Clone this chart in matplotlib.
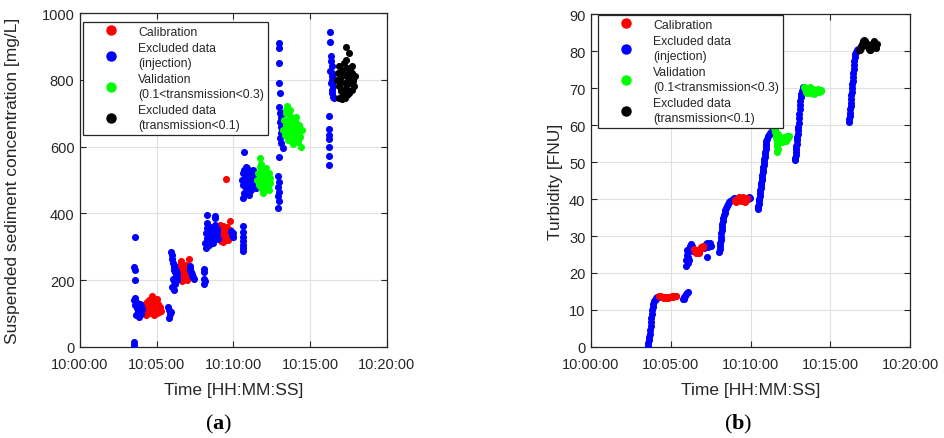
import matplotlib
matplotlib.use("Agg")
import matplotlib.pyplot as plt
from matplotlib.lines import Line2D

plt.rcParams['font.family'] = ['Liberation Sans', 'DejaVu Sans']
plt.rcParams['mathtext.fontset'] = 'custom'
plt.rcParams['mathtext.rm'] = 'Liberation Serif'
plt.rcParams['mathtext.bf'] = 'Liberation Serif:bold'

# ---------------- x axis (minutes after 10:00:00) ----------------
x_ticks = [0, 5, 10, 15, 20]
x_tick_labels = ["10:00:00", "10:05:00", "10:10:00", "10:15:00", "10:20:00"]

# ---------------- (a) Suspended sediment concentration ----------------
ssc_cal_t = [4.15, 4.2, 4.25, 4.3, 4.35, 4.4, 4.45, 4.5, 4.55, 4.6, 4.65, 4.7, 4.75, 4.8, 4.85, 4.9, 4.95, 5.0,
             5.05, 5.1, 5.15, 5.2, 5.25, 4.3, 4.5, 4.7, 4.9, 5.1, 4.4, 4.6, 4.8, 5.0, 4.75,
             6.35, 6.4, 6.5, 6.55, 6.6, 6.7, 6.75, 6.8, 6.9, 6.95, 7.0, 7.1, 6.45, 6.65, 6.85, 7.05, 6.6, 6.8, 7.15,
             9.05, 9.1, 9.2, 9.25, 9.3, 9.4, 9.45, 9.5, 9.6, 9.65, 9.7, 9.8, 9.85, 9.9, 9.15, 9.35, 9.55, 9.75,
             9.95, 9.5]
ssc_cal_v = [112, 125, 104, 118, 132, 98, 121, 110, 127, 103, 115, 138, 108, 120, 96, 130, 113, 101,
             124, 117, 106, 119, 109, 95, 140, 153, 142, 128, 135, 122, 100, 145, 116,
             225, 240, 210, 232, 250, 205, 238, 218, 246, 200, 228, 263, 215, 198, 235, 222, 258, 244, 212,
             330, 352, 318, 340, 362, 325, 348, 335, 358, 320, 345, 377, 330, 342, 365, 315, 338, 350,
             328, 503]

ssc_inj_t = [3.5, 3.55, 3.58, 3.55, 3.6, 3.6, 3.6, 3.55, 3.65, 3.6, 3.7, 3.75, 3.8, 3.85, 3.9, 3.95, 4.0, 3.65,
             3.7, 3.8, 3.9, 4.0, 4.05, 3.75, 3.85, 3.95,
             5.75, 5.8, 5.85, 5.8, 5.9,
             5.95, 6.0, 6.0, 6.05, 6.1, 6.15, 6.2, 6.25, 6.3, 6.05, 6.1, 6.2, 6.25, 6.15, 6.0, 6.3, 6.35, 6.1,
             7.15, 7.2, 7.25, 7.3, 7.35, 7.4, 7.2, 7.3,
             8.05, 8.1, 8.1, 8.15, 8.05,
             8.2, 8.25, 8.3, 8.35, 8.4, 8.45, 8.5, 8.55, 8.6, 8.65, 8.7, 8.75, 8.8, 8.85, 8.9, 8.95, 9.0, 8.2,
             8.3, 8.4, 8.5, 8.6, 8.7, 8.8, 8.9, 8.25, 8.8, 8.15, 8.35, 8.55, 8.75,
             9.85, 9.9, 9.95, 10.0,
             10.6, 10.6, 10.65, 10.6, 10.65, 10.6, 10.65,
             10.55, 10.6, 10.65, 10.7, 10.75, 10.8, 10.85, 10.9, 10.95, 11.0, 11.05, 11.1, 11.15, 11.2, 11.25,
             11.3, 11.35, 11.4, 11.45, 10.7, 10.8, 10.9, 11.0, 11.1, 11.2, 11.3, 10.65, 10.7, 11.4,
             12.9, 12.95, 12.9, 12.95, 12.9, 12.95, 12.9,
             12.95, 13.0, 12.95, 13.0, 13.05, 13.0, 13.05, 13.1, 13.05, 13.1, 13.15, 13.1, 13.2, 13.15, 13.05,
             13.1, 13.2, 13.0, 13.1,
             16.2, 16.2, 16.25, 16.2, 16.25, 16.2, 16.2,
             16.3, 16.3, 16.35, 16.35, 16.4, 16.3, 16.45, 16.4, 16.35, 16.5, 16.45, 16.4, 16.5, 16.55, 16.45, 16.5]
ssc_inj_v = [5, 15, 330, 240, 232, 200, 148, 140, 135, 125, 118, 112, 105, 100, 130, 122, 110, 95,
             132, 128, 102, 98, 115, 108, 90, 120,
             120, 110, 98, 88, 105,
             283, 275, 262, 250, 240, 232, 225, 218, 210, 205, 198, 190, 230, 245, 180, 200, 222, 170,
             243, 232, 225, 218, 210, 204, 236, 214,
             234, 226, 205, 198, 190,
             340, 325, 355, 315, 345, 330, 360, 320, 338, 350, 312, 342, 365, 328, 335, 348, 322, 296,
             372, 305, 332, 344, 318, 392, 352, 395, 385, 310, 362, 326, 336,
             348, 335, 328, 342,
             362, 345, 330, 318, 305, 295, 288,
             500, 520, 485, 530, 505, 475, 540, 495, 515, 480, 525, 500, 470, 510, 490,
             520, 505, 485, 475, 584, 465, 535, 455, 510, 480, 530, 446, 460, 500,
             512, 495, 480, 465, 452, 438, 416,
             910, 895, 850, 790, 760, 720, 700, 690, 675, 660, 650, 640, 670, 700, 625,
             610, 595, 570, 680,
             692, 653, 635, 623, 599, 572, 545,
             943, 913, 871, 855, 840, 825, 810, 800, 790, 780, 770, 760, 750, 745, 820, 795]

ssc_val_t = [11.55, 11.6, 11.65, 11.7, 11.75, 11.8, 11.85, 11.9, 11.95, 12.0, 12.05, 12.1, 12.15, 12.2, 12.25,
             12.3, 12.35, 12.4, 11.7, 11.9, 12.1, 12.3, 11.8, 12.0, 12.2, 11.65,
             13.25, 13.3, 13.35, 13.4, 13.45, 13.5, 13.55, 13.6, 13.65, 13.7, 13.75, 13.8, 13.85, 13.9, 13.95,
             14.0, 14.05, 14.1, 14.15, 14.2, 14.25, 14.3, 14.35, 14.4, 13.5, 13.7, 13.9, 14.1, 14.3, 13.6,
             13.8, 14.0, 14.2, 14.45, 13.45]
ssc_val_v = [500, 520, 485, 540, 505, 475, 530, 495, 515, 470, 525, 488, 510, 498, 478,
             520, 505, 490, 566, 462, 535, 470, 548, 480, 512, 492,
             650, 680, 635, 665, 700, 645, 620, 675, 655, 690, 630, 660, 640, 685, 650,
             625, 670, 645, 660, 615, 640, 655, 630, 600, 722, 710, 608, 690, 665, 700,
             615, 680, 625, 650, 710]

ssc_exc_t = [16.75, 16.8, 16.85, 16.9, 16.95, 17.0, 17.05, 17.1, 17.15, 17.2, 17.25, 17.3, 17.35, 17.4, 17.45,
             17.5, 17.55, 17.6, 17.65, 17.7, 17.75, 17.8, 17.85, 17.9, 16.9, 17.1, 17.3, 17.35, 17.7, 17.0,
             17.55, 17.4, 17.6, 17.8, 17.25, 17.35]
ssc_exc_v = [800, 820, 780, 840, 795, 770, 830, 810, 760, 850, 790, 815, 775, 835, 800,
             760, 820, 790, 805, 770, 840, 795, 780, 810, 745, 742, 860, 898, 820, 765,
             880, 755, 825, 800, 745, 790]

# ---------------- (b) Turbidity ----------------
tur_cal_t = [4.25, 4.3, 4.35, 4.4, 4.45, 4.5, 4.55, 4.6, 4.65, 4.7, 4.75, 4.8, 4.85, 4.9, 4.95, 5.0, 5.05, 5.1,
             5.15, 5.2, 5.25, 5.3, 5.35,
             6.45, 6.5, 6.55, 6.6, 6.65, 6.7, 6.75, 6.8, 6.85, 6.9, 6.95, 7.0, 7.05,
             9.0, 9.05, 9.1, 9.15, 9.2, 9.25, 9.3, 9.35, 9.4, 9.45, 9.5, 9.55, 9.6, 9.65, 9.7, 9.75, 9.8]
tur_cal_v = [13.7, 13.9, 13.8, 13.5, 13.4, 13.6, 13.3, 13.2, 13.4, 13.5, 13.3, 13.2, 13.4, 13.6, 13.5, 13.4,
             13.5, 13.7, 13.6, 13.8, 13.9, 13.7, 13.9,
             26.5, 26.0, 25.6, 25.3, 25.8, 26.2, 25.5, 25.9, 26.6, 27.0, 26.8, 27.2, 26.9,
             39.5, 39.8, 39.3, 39.6, 40.2, 40.5, 40.1, 39.7, 39.4, 39.8, 40.6, 40.3, 39.5, 39.2, 39.6, 40.0, 40.4]

tur_inj_t = [3.55, 3.58, 3.61, 3.64, 3.67, 3.7, 3.73, 3.76, 3.79, 3.82, 3.85, 3.88, 3.91, 3.95, 4.0, 4.05, 4.1,
             4.15, 4.2,
             5.75, 5.8, 5.85, 5.9, 5.95, 6.0, 6.05,
             5.95, 5.98, 6.0, 6.02, 6.05, 6.08, 6.1, 6.12, 6.15, 6.2, 6.25, 6.3, 6.35, 6.4,
             7.1, 7.15, 7.2, 7.25, 7.3, 7.35, 7.4, 7.45, 7.5, 7.3,
             8.05, 8.07, 8.09, 8.11, 8.13, 8.15, 8.17, 8.19, 8.21, 8.24, 8.27, 8.3, 8.34, 8.38, 8.43, 8.48,
             8.54, 8.6, 8.67, 8.74, 8.82, 8.9, 8.97,
             9.85, 9.9, 9.95,
             10.45, 10.47, 10.49, 10.51, 10.53, 10.55, 10.57, 10.6, 10.62, 10.64, 10.66, 10.68, 10.7, 10.72,
             10.74, 10.76, 10.78, 10.8, 10.82, 10.84, 10.86, 10.88, 10.9, 10.92, 10.94, 10.96, 10.98, 11.0,
             11.04, 11.08, 11.13, 11.2, 11.28, 11.36, 11.45, 11.55,
             12.78, 12.8, 12.82, 12.84, 12.86, 12.88, 12.9, 12.92, 12.94, 12.96, 12.98, 13.0, 13.02, 13.04,
             13.06, 13.08, 13.1, 13.12, 13.15, 13.18, 13.22, 13.27, 13.32,
             16.17, 16.19, 16.21, 16.23, 16.25, 16.27, 16.29, 16.31, 16.33, 16.35, 16.37, 16.39, 16.41, 16.43,
             16.45, 16.47, 16.49, 16.51, 16.53, 16.56, 16.6, 16.65, 16.7, 16.75]
tur_inj_v = [0.2, 1.0, 1.8, 2.7, 3.6, 4.6, 5.6, 6.7, 7.8, 8.9, 9.9, 10.8, 11.6, 12.3, 12.8, 13.1, 13.3,
             13.5, 13.6,
             12.9, 13.1, 13.4, 13.8, 14.2, 14.6, 14.9,
             21.9, 23.5, 25.0, 26.2, 22.8, 24.2, 25.8, 23.6, 26.5, 27.4, 27.8, 27.2, 26.6, 26.0,
             26.8, 27.4, 27.9, 28.2, 27.6, 27.0, 27.5, 28.0, 27.3, 24.3,
             25.6, 26.4, 27.2, 28.0, 28.9, 29.8, 30.7, 31.6, 32.4, 33.3, 34.1, 34.9, 35.6, 36.3, 37.0, 37.6,
             38.1, 38.6, 39.1, 39.5, 39.8, 40.1, 40.3,
             40.0, 40.5, 40.3,
             37.3, 37.6, 38.1, 38.7, 39.4, 40.1, 40.8, 41.6, 42.3, 43.0, 43.7, 44.4, 45.1, 45.8,
             46.5, 47.2, 47.9, 48.6, 49.3, 50.0, 50.7, 51.4, 52.1, 52.8, 53.5, 54.2, 54.9, 55.6,
             56.3, 56.9, 57.4, 57.8, 58.1, 58.4, 58.6, 58.8,
             50.5, 51.0, 51.8, 52.6, 53.4, 54.2, 55.0, 55.9, 56.8, 57.7, 58.6, 59.5, 60.6, 61.8,
             63.0, 64.2, 65.4, 66.5, 67.6, 68.5, 69.3, 69.9, 70.3,
             60.8, 61.5, 62.4, 63.3, 64.2, 65.1, 66.0, 67.0, 68.0, 69.0, 70.0, 71.0, 72.0, 73.0,
             74.1, 75.2, 76.3, 77.4, 78.3, 79.1, 79.7, 80.1, 80.3, 80.5]

tur_val_t = [11.5, 11.53, 11.56, 11.6, 11.62, 11.64, 11.66, 11.68, 11.7, 11.65, 11.67, 11.72, 11.76, 11.8,
             11.84, 11.88, 11.92, 11.96, 12.0, 12.05, 12.1, 12.15, 12.2, 12.25, 12.3, 12.35, 12.4, 11.7, 11.74,
             13.38, 13.42, 13.46, 13.5, 13.55, 13.6, 13.65, 13.7, 13.75, 13.8, 13.85, 13.9, 13.95, 14.0,
             14.05, 14.1, 14.15, 14.2, 14.25, 14.3, 14.35, 14.4, 14.45, 13.55, 13.75, 13.95]
tur_val_v = [59.2, 58.6, 58.0, 57.2, 56.4, 55.6, 55.0, 54.2, 53.4, 53.0, 52.8, 55.6, 56.0, 55.4,
             55.8, 56.4, 55.9, 55.3, 55.7, 56.2, 56.8, 56.3, 55.8, 56.5, 57.1, 56.6, 56.9, 57.5, 56.8,
             70.2, 69.8, 69.3, 69.0, 69.4, 69.9, 70.1, 69.5, 69.0, 68.6, 69.2, 69.8, 69.5, 69.0,
             68.6, 68.9, 69.4, 69.7, 69.2, 68.8, 69.1, 69.5, 69.3, 68.6, 70.3, 68.4]

tur_exc_t = [16.8, 16.85, 16.9, 16.95, 17.0, 17.04, 17.08, 17.12, 17.16, 17.2, 17.24, 17.28, 17.32, 17.36,
             17.4, 17.44, 17.48, 17.52, 17.56, 17.6, 17.64, 17.68, 17.72, 17.76, 17.8, 17.85, 17.9]
tur_exc_v = [80.2, 80.4, 80.8, 81.3, 81.8, 82.2, 82.6, 82.9, 82.7, 82.4, 82.1, 81.8, 81.5, 81.2,
             80.9, 80.6, 80.3, 80.2, 80.6, 81.2, 81.8, 82.3, 82.6, 82.4, 81.6, 80.8, 81.8]

legend_labels = ["Calibration", "Excluded data\n(injection)",
                 "Validation\n(0.1<transmission<0.3)", "Excluded data\n(transmission<0.1)"]
colors = ["#ff0000", "#0000ff", "#00ff00", "#000000"]

# ---------------- figure ----------------
fig = plt.figure(figsize=(9.44, 4.39), dpi=100)
axL = fig.add_axes([0.0847, 0.2073, 0.3252, 0.7608])
axR = fig.add_axes([0.6261, 0.2073, 0.3379, 0.7585])

tick_col = "#262626"
MS = 26


def style(ax):
    ax.set_xlim(0, 20)
    ax.set_xticks(x_ticks)
    ax.set_xticklabels(x_tick_labels)
    ax.grid(True, color="#e0e0e0", linewidth=0.8)
    ax.set_axisbelow(True)
    ax.tick_params(direction="in", top=True, right=True, length=4, width=0.8,
                   colors=tick_col, labelsize=10.5, pad=4)
    ax.tick_params(axis="x", pad=7)
    for sp in ax.spines.values():
        sp.set_color(tick_col)
        sp.set_linewidth(0.9)
    ax.set_xlabel("Time [HH:MM:SS]", fontsize=12.5, color=tick_col)


def add_legend(ax, anchor):
    handles = [Line2D([], [], linestyle="none", marker="o", markersize=6.5, color=c) for c in colors]
    leg = ax.legend(handles, legend_labels, loc="upper left", bbox_to_anchor=anchor,
                    borderaxespad=0, fancybox=False, framealpha=1, edgecolor="#262626",
                    fontsize=8.8, handlelength=3.9, handletextpad=0.3, labelspacing=0.35,
                    borderpad=0.3)
    leg.get_frame().set_linewidth(0.9)
    for t in leg.get_texts():
        t.set_linespacing(1.33)
        t.set_color(tick_col)


# (a)
axL.scatter(ssc_cal_t, ssc_cal_v, s=MS, color=colors[0], linewidths=0, zorder=3)
axL.scatter(ssc_inj_t, ssc_inj_v, s=MS, color=colors[1], linewidths=0, zorder=3)
axL.scatter(ssc_val_t, ssc_val_v, s=MS, color=colors[2], linewidths=0, zorder=3)
axL.scatter(ssc_exc_t, ssc_exc_v, s=MS, color=colors[3], linewidths=0, zorder=3)
style(axL)
axL.set_ylim(0, 1000)
axL.set_yticks([0, 200, 400, 600, 800, 1000])
axL.set_ylabel("Suspended sediment concentration [mg/L]", fontsize=12.5, color=tick_col)
axL.yaxis.set_label_coords(-0.195, 0.5)
axL.xaxis.set_label_coords(0.5, -0.105)
add_legend(axL, (0.01, 0.973))

# (b)
axR.scatter(tur_inj_t, tur_inj_v, s=MS, color=colors[1], linewidths=0, zorder=3)
axR.scatter(tur_cal_t, tur_cal_v, s=MS, color=colors[0], linewidths=0, zorder=3)
axR.scatter(tur_val_t, tur_val_v, s=MS, color=colors[2], linewidths=0, zorder=3)
axR.scatter(tur_exc_t, tur_exc_v, s=MS, color=colors[3], linewidths=0, zorder=3)
style(axR)
axR.set_ylim(0, 90)
axR.set_yticks(list(range(0, 91, 10)))
axR.set_ylabel("Turbidity [FNU]", fontsize=12.5, color=tick_col)
axR.yaxis.set_label_coords(-0.088, 0.5)
axR.xaxis.set_label_coords(0.5, -0.105)
add_legend(axR, (0.022, 0.997))

fig.text(0.231, 0.032, r"$\mathrm{(}\mathbf{a}\mathrm{)}$", fontsize=16, ha="center", va="center")
fig.text(0.782, 0.032, r"$\mathrm{(}\mathbf{b}\mathrm{)}$", fontsize=16, ha="center", va="center")

fig.savefig("out.png", dpi=100)
